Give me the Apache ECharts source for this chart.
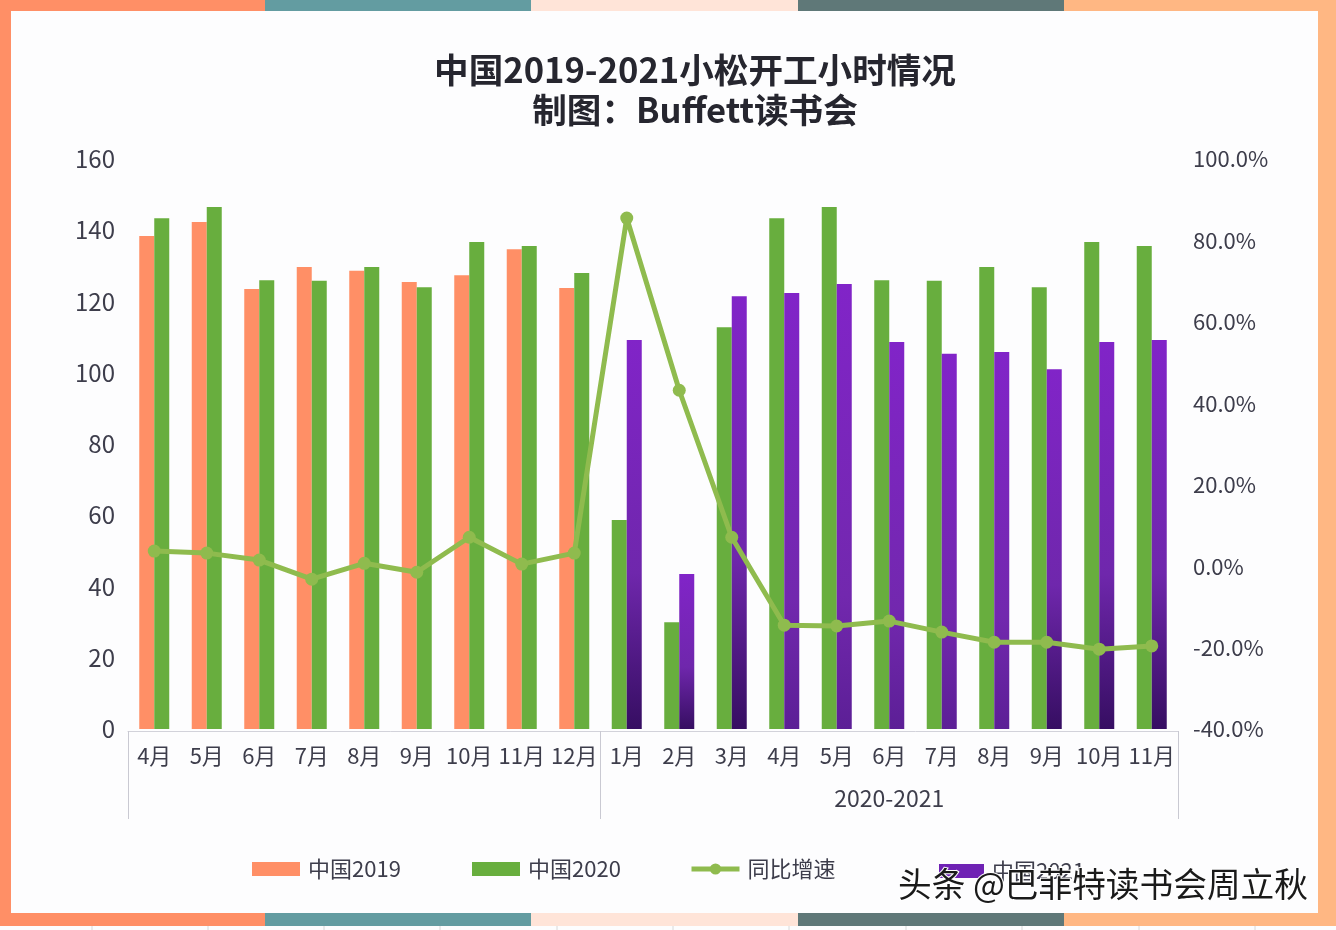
<!DOCTYPE html>
<html lang="zh">
<head>
  <meta charset="UTF-8">
  <title>中国2019-2021小松开工小时情况</title>
  <style>
    html, body { margin: 0; padding: 0; background: #fff; }
    #chart { width: 1336px; height: 930px; }
  </style>
  <script src="https://cdn.jsdelivr.net/npm/echarts@6/dist/echarts.min.js"></script>
</head>
<body>
  <div id="chart"></div>
  <script>
    // Data
    const months = ['4月', '5月', '6月', '7月', '8月', '9月', '10月', '11月', '12月',
      '1月', '2月', '3月', '4月', '5月', '6月', '7月', '8月', '9月', '10月', '11月'];
    const china2019 = [138.4, 142.3, 123.5, 129.7, 128.6, 125.5, 127.4, 134.7, 123.8,
      null, null, null, null, null, null, null, null, null, null, null];
    // 2020 sits right of 2019 in the first block and left of 2021 in the second
    const china2020Right = [143.4, 146.5, 126, 125.8, 129.7, 124, 136.7, 135.6, 128,
      null, null, null, null, null, null, null, null, null, null, null];
    const china2020Left = [null, null, null, null, null, null, null, null, null,
      58.7, 30, 112.8, 143.4, 146.5, 126, 125.8, 129.7, 124, 136.7, 135.6];
    const china2021 = [null, null, null, null, null, null, null, null, null,
      109.2, 43.5, 121.5, 122.4, 124.9, 108.6, 105.3, 105.8, 101, 108.6, 109.2];
    const growth = [3.7, 3.2, 1.5, -3.2, 0.7, -1.5, 7.1, 0.5, 3.2,
      85.5, 43.2, 7.1, -14.5, -14.7, -13.5, -16.2, -18.7, -18.7, -20.4, -19.6];
    const groupLabel = '2020-2021';

    const textColor = '#3d3d4b';
    const orange = '#ff8f66';
    const green = '#68ae3e';
    const lime = '#8fbb4e';
    const purpleDark = new echarts.graphic.LinearGradient(0, 0, 0, 1, [
      { offset: 0, color: '#8124c8' },
      { offset: 0.6, color: '#6f27ac' },
      { offset: 1, color: '#360e62' }
    ]);
    const purpleLight = new echarts.graphic.LinearGradient(0, 0, 0, 1, [
      { offset: 0, color: '#8124c8' },
      { offset: 0.7, color: '#7228ae' },
      { offset: 1, color: '#5c1f96' }
    ]);
    // The 4月-8月 bars of 2021 stay lighter at the foot
    const lightFootBars = [12, 13, 14, 15, 16];
    const font = '"Noto Sans CJK SC", "Noto Sans", sans-serif';

    // Coloured frame around the page
    const frameColors = ['#ff8f66', '#639ca1', '#ffe4d8', '#5f7878', '#ffb783'];
    const frameStops = [0, 265, 531, 798, 1064, 1336];
    const frame = [];
    frameColors.forEach(function (color, i) {
      const w = frameStops[i + 1] - frameStops[i];
      frame.push({ type: 'rect', shape: { x: frameStops[i], y: 0, width: w, height: 11 }, style: { fill: color } });
      frame.push({ type: 'rect', shape: { x: frameStops[i], y: 913, width: w, height: 13 }, style: { fill: color } });
    });
    frame.push({ type: 'rect', shape: { x: 0, y: 0, width: 11, height: 926 }, style: { fill: frameColors[0] } });
    frame.push({ type: 'rect', shape: { x: 1318, y: 0, width: 18, height: 926 }, style: { fill: frameColors[4] } });
    [92, 208, 324, 440, 557, 673, 789, 906, 1022, 1139, 1255].forEach(function (x) {
      frame.push({ type: 'line', shape: { x1: x, y1: 926, x2: x, y2: 930 }, style: { stroke: '#d8d8d8', lineWidth: 1 } });
    });

    function legendAt(name, left, width, top, icon, color) {
      const item = { name: name };
      if (icon) item.icon = icon;
      if (color) item.itemStyle = { color: color };
      return {
        data: [item],
        left: left, top: top, padding: 0,
        itemWidth: width, itemHeight: 14, selectedMode: false,
        lineStyle: { width: 5 },
        textStyle: { fontFamily: font, fontSize: 22, color: textColor, padding: [0, 0, 0, 3] }
      };
    }

    const chart = echarts.init(document.getElementById('chart'));
    chart.setOption({
      backgroundColor: '#fdfdfe',
      animation: false,
      title: {
        text: '中国2019-2021小松开工小时情况\n制图：Buffett读书会',
        left: 690, top: 45, textAlign: 'center',
        textStyle: { fontFamily: font, fontSize: 34.6, fontWeight: 'bold', color: '#26262f', lineHeight: 40 }
      },
      legend: [
        legendAt('中国2019', 252, 48, 858, 'rect'),
        legendAt('中国2020', 472, 48, 858, 'rect'),
        legendAt('同比增速', 689, 48, 858),
        legendAt('中国2021', 939, 45, 860, 'rect', '#6f22b4')
      ],
      grid: { left: 128, right: 158, top: 159, bottom: 201 },
      xAxis: [
        {
          type: 'category', data: months, position: 'bottom', offset: 2,
          axisLine: { onZero: false, lineStyle: { color: '#d2d2da', width: 1 } },
          axisTick: { show: false },
          axisLabel: { interval: 0, margin: 14, fontFamily: font, fontSize: 22, color: textColor }
        },
        {
          // Second level of the category axis: group dividers and group name
          type: 'value', min: 0, max: months.length, position: 'bottom', offset: 2,
          axisLine: { show: false, onZero: false },
          splitLine: { show: false },
          axisTick: { show: true, length: 88, customValues: [0, 9, 20], lineStyle: { color: '#c9c9d2', width: 1 } },
          axisLabel: {
            show: true, margin: 56, customValues: [14.5], formatter: function () { return groupLabel; },
            fontFamily: font, fontSize: 23, color: textColor
          }
        }
      ],
      yAxis: [
        {
          type: 'value', min: 0, max: 160, interval: 20,
          axisLine: { show: false }, axisTick: { show: false }, splitLine: { show: false },
          axisLabel: { margin: 13, fontFamily: font, fontSize: 24, color: textColor }
        },
        {
          type: 'value', min: -40, max: 100, interval: 20, position: 'right',
          axisLine: { show: false }, axisTick: { show: false }, splitLine: { show: false },
          axisLabel: {
            margin: 15, fontFamily: font, fontSize: 22, color: textColor,
            formatter: function (v) { return v.toFixed(1) + '%'; }
          }
        }
      ],
      series: [
        { name: '中国2019', type: 'bar', stack: 'left', barWidth: 15, barGap: 0, data: china2019, itemStyle: { color: orange } },
        { name: '中国2020', type: 'bar', stack: 'left', barWidth: 15, data: china2020Left, itemStyle: { color: green } },
        { name: '中国2020', type: 'bar', stack: 'right', barWidth: 15, data: china2020Right, itemStyle: { color: green } },
        {
          name: '中国2021', type: 'bar', stack: 'right', barWidth: 15,
          itemStyle: { color: purpleDark },
          data: china2021.map(function (v, i) {
            return lightFootBars.indexOf(i) >= 0 ? { value: v, itemStyle: { color: purpleLight } } : v;
          })
        },
        {
          name: '同比增速', type: 'line', yAxisIndex: 1, data: growth, z: 5,
          symbol: 'circle', symbolSize: 13,
          lineStyle: { color: lime, width: 5 }, itemStyle: { color: lime }
        }
      ],
      graphic: frame.concat([{
        type: 'text', left: 897, top: 866, z: 100,
        style: {
          text: '头条 @巴菲特读书会周立秋', fontFamily: font, fontSize: 33.7,
          fill: '#1a1a1a', stroke: '#ffffff', lineWidth: 2
        }
      }])
    });
  </script>
</body>
</html>
